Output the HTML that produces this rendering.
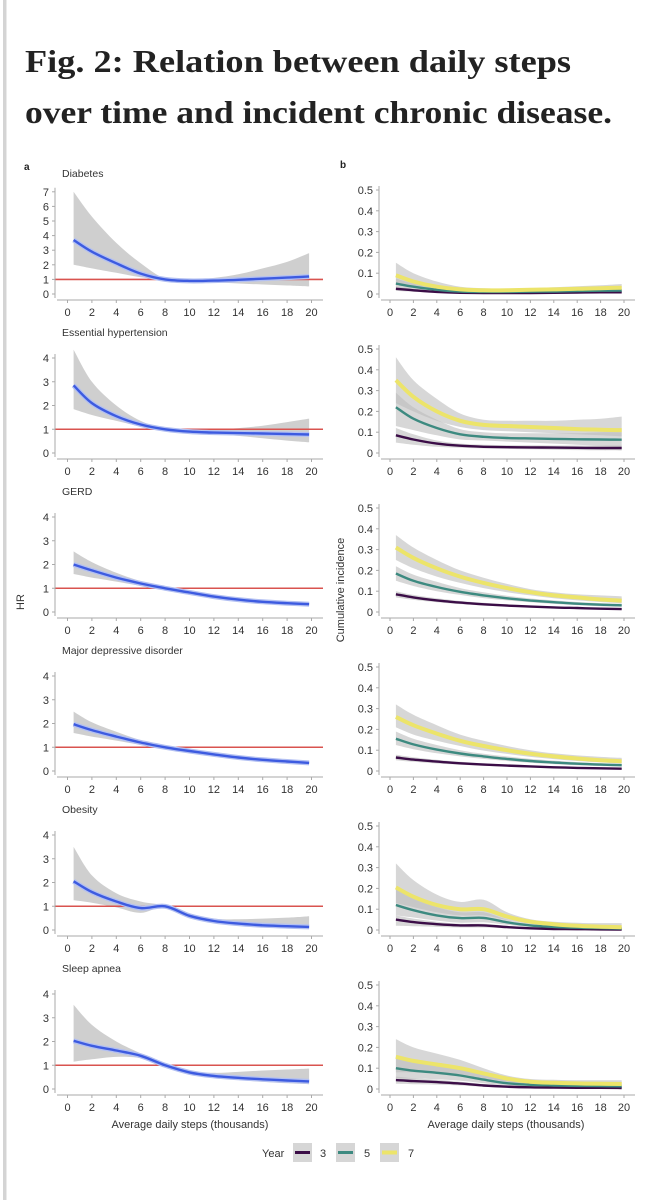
<!DOCTYPE html>
<html><head><meta charset="utf-8"><style>
html,body{margin:0;padding:0;background:#fff;width:652px;height:1200px;overflow:hidden}
svg{display:block}
</style></head><body>
<svg id="fig" width="652" height="1200" viewBox="0 0 652 1200" xmlns="http://www.w3.org/2000/svg">
<rect x="3" y="0" width="3.5" height="1200" fill="#d4d4d4"/>
<text x="25" y="72" font-family="Liberation Serif, serif" font-weight="bold" font-size="32" fill="#222" textLength="546" lengthAdjust="spacingAndGlyphs">Fig. 2: Relation between daily steps</text>
<text x="25" y="123" font-family="Liberation Serif, serif" font-weight="bold" font-size="32" fill="#222" textLength="587" lengthAdjust="spacingAndGlyphs">over time and incident chronic disease.</text>
<text x="24" y="170" font-family="Liberation Sans, sans-serif" font-weight="bold" font-size="10" fill="#222">a</text>
<text x="340" y="168" font-family="Liberation Sans, sans-serif" font-weight="bold" font-size="10" fill="#222">b</text>
<text transform="translate(24,602) rotate(-90)" text-anchor="middle" font-family="Liberation Sans, sans-serif" font-size="11" fill="#333">HR</text>
<text transform="translate(344,590) rotate(-90)" text-anchor="middle" font-family="Liberation Sans, sans-serif" font-size="11" fill="#333">Cumulative incidence</text>
<text x="190" y="1128" text-anchor="middle" font-family="Liberation Sans, sans-serif" font-size="11" fill="#333">Average daily steps (thousands)</text>
<text x="506" y="1128" text-anchor="middle" font-family="Liberation Sans, sans-serif" font-size="11" fill="#333">Average daily steps (thousands)</text>
<g id="legend" font-family="Liberation Sans, sans-serif" font-size="11" fill="#333">
<text x="262" y="1157">Year</text>
<g><rect x="293" y="1143" width="19" height="19" fill="#d6d6d6"/><line x1="295" y1="1152.5" x2="310" y2="1152.5" stroke="#3b0d47" stroke-width="3"/><text x="320" y="1157">3</text></g>
<g><rect x="336" y="1143" width="19" height="19" fill="#d6d6d6"/><line x1="338" y1="1152.5" x2="353" y2="1152.5" stroke="#3d8a80" stroke-width="3"/><text x="364" y="1157">5</text></g>
<g><rect x="380" y="1143" width="19" height="19" fill="#d6d6d6"/><line x1="382" y1="1152.5" x2="397" y2="1152.5" stroke="#ece46a" stroke-width="4"/><text x="408" y="1157">7</text></g>
</g>
</svg>
<script>
// shared x grid (thousand steps)
const steps = [0.5,2,4,6,8,10,12,14,16,18,19.8];
const panelTitles = ["Diabetes","Essential hypertension","GERD","Major depressive disorder","Obesity","Sleep apnea"];
const hrMax = [7,4,4,4,4,4];
// HR estimates / lower / upper
const hrEst = [
 [3.7,2.9,2.1,1.4,1.0,0.9,0.92,0.97,1.05,1.12,1.2],
 [2.85,2.1,1.55,1.2,1.0,0.9,0.86,0.84,0.82,0.8,0.78],
 [2.0,1.75,1.45,1.2,1.0,0.82,0.65,0.52,0.43,0.37,0.33],
 [1.97,1.72,1.45,1.2,1.0,0.84,0.7,0.57,0.47,0.4,0.34],
 [2.05,1.6,1.2,0.92,1.0,0.6,0.38,0.27,0.2,0.16,0.13],
 [2.03,1.82,1.62,1.4,1.0,0.7,0.55,0.47,0.41,0.36,0.32]];
const hrLo = [
 [2.0,1.75,1.45,1.15,0.98,0.88,0.8,0.72,0.65,0.58,0.52],
 [1.85,1.6,1.35,1.12,0.97,0.88,0.8,0.72,0.62,0.52,0.45],
 [1.6,1.45,1.28,1.1,0.97,0.78,0.6,0.47,0.37,0.31,0.27],
 [1.6,1.45,1.28,1.1,0.97,0.8,0.65,0.52,0.42,0.35,0.29],
 [1.25,1.15,0.95,0.72,0.98,0.55,0.3,0.2,0.13,0.08,0.05],
 [1.15,1.25,1.35,1.3,0.98,0.65,0.48,0.38,0.3,0.24,0.2]];
const hrHi = [
 [7.0,5.3,3.5,2.1,1.05,0.95,1.1,1.35,1.75,2.2,2.8],
 [4.35,3.0,2.0,1.35,1.03,0.95,0.98,1.05,1.15,1.3,1.45],
 [2.55,2.1,1.65,1.3,1.03,0.87,0.7,0.58,0.5,0.45,0.42],
 [2.5,2.05,1.65,1.3,1.03,0.88,0.75,0.63,0.53,0.46,0.41],
 [3.5,2.3,1.55,1.2,1.03,0.68,0.48,0.45,0.48,0.52,0.58],
 [3.55,2.7,2.0,1.5,1.03,0.75,0.68,0.72,0.78,0.82,0.86]];
// cumulative incidence, year 7
const ci7 = [
 [0.09,0.06,0.035,0.022,0.018,0.018,0.02,0.022,0.025,0.028,0.03],
 [0.35,0.27,0.2,0.155,0.135,0.13,0.125,0.12,0.115,0.112,0.11],
 [0.31,0.26,0.21,0.17,0.14,0.115,0.095,0.08,0.07,0.06,0.055],
 [0.26,0.22,0.18,0.145,0.12,0.1,0.083,0.07,0.06,0.052,0.047],
 [0.205,0.16,0.12,0.1,0.1,0.065,0.04,0.028,0.02,0.016,0.013],
 [0.155,0.135,0.118,0.1,0.075,0.05,0.035,0.03,0.027,0.025,0.024]];
const ci7Lo = [
 [0.05,0.035,0.02,0.014,0.012,0.012,0.013,0.014,0.015,0.016,0.017],
 [0.24,0.2,0.155,0.125,0.11,0.105,0.1,0.095,0.09,0.085,0.08],
 [0.25,0.21,0.17,0.14,0.115,0.095,0.08,0.066,0.056,0.048,0.042],
 [0.21,0.175,0.145,0.12,0.098,0.082,0.068,0.057,0.048,0.041,0.036],
 [0.13,0.11,0.085,0.07,0.07,0.048,0.03,0.02,0.013,0.009,0.006],
 [0.08,0.08,0.075,0.068,0.052,0.035,0.024,0.019,0.016,0.014,0.013]];
const ci7Hi = [
 [0.15,0.1,0.06,0.035,0.028,0.026,0.028,0.032,0.037,0.042,0.048],
 [0.46,0.35,0.26,0.19,0.16,0.155,0.155,0.155,0.16,0.165,0.175],
 [0.37,0.31,0.25,0.2,0.165,0.135,0.11,0.095,0.085,0.08,0.075],
 [0.32,0.27,0.22,0.175,0.145,0.12,0.1,0.085,0.075,0.068,0.063],
 [0.32,0.24,0.17,0.135,0.145,0.085,0.052,0.04,0.035,0.033,0.033],
 [0.24,0.2,0.17,0.14,0.1,0.065,0.048,0.044,0.042,0.042,0.042]];
// year 5
const ci5 = [
 [0.05,0.035,0.02,0.012,0.01,0.01,0.011,0.012,0.014,0.016,0.017],
 [0.22,0.165,0.12,0.09,0.078,0.072,0.07,0.068,0.066,0.065,0.064],
 [0.185,0.15,0.12,0.097,0.08,0.066,0.055,0.047,0.04,0.035,0.032],
 [0.155,0.128,0.103,0.084,0.07,0.058,0.048,0.041,0.035,0.031,0.028],
 [0.12,0.095,0.07,0.057,0.058,0.037,0.022,0.015,0.011,0.009,0.007],
 [0.1,0.088,0.078,0.065,0.045,0.028,0.02,0.017,0.015,0.014,0.013]];
const ci5Lo = [
 [0.03,0.022,0.013,0.008,0.007,0.007,0.007,0.008,0.009,0.01,0.011],
 [0.13,0.11,0.085,0.065,0.06,0.055,0.05,0.045,0.04,0.035,0.03],
 [0.15,0.125,0.1,0.082,0.067,0.056,0.047,0.039,0.033,0.028,0.025],
 [0.125,0.105,0.085,0.07,0.058,0.048,0.04,0.033,0.028,0.024,0.021],
 [0.07,0.06,0.045,0.035,0.037,0.025,0.014,0.009,0.006,0.004,0.003],
 [0.05,0.05,0.047,0.04,0.028,0.017,0.012,0.01,0.008,0.007,0.006]];
const ci5Hi = [
 [0.075,0.05,0.028,0.017,0.014,0.014,0.015,0.017,0.02,0.022,0.024],
 [0.29,0.22,0.16,0.115,0.1,0.095,0.095,0.095,0.095,0.1,0.1],
 [0.22,0.18,0.145,0.115,0.095,0.078,0.065,0.056,0.048,0.043,0.04],
 [0.19,0.155,0.125,0.1,0.083,0.07,0.058,0.05,0.043,0.038,0.035],
 [0.2,0.15,0.11,0.085,0.085,0.05,0.03,0.022,0.018,0.016,0.015],
 [0.16,0.14,0.12,0.1,0.07,0.042,0.03,0.027,0.026,0.025,0.025]];
// year 3
const ci3 = [
 [0.025,0.018,0.01,0.006,0.005,0.005,0.005,0.006,0.007,0.008,0.008],
 [0.085,0.065,0.045,0.035,0.03,0.028,0.027,0.026,0.025,0.024,0.024],
 [0.085,0.07,0.056,0.045,0.037,0.031,0.026,0.022,0.019,0.016,0.014],
 [0.065,0.055,0.045,0.037,0.031,0.026,0.022,0.018,0.015,0.013,0.011],
 [0.05,0.038,0.028,0.022,0.022,0.014,0.008,0.005,0.004,0.003,0.002],
 [0.043,0.038,0.033,0.026,0.017,0.011,0.008,0.007,0.006,0.006,0.005]];
const ci3Lo = [
 [0.015,0.011,0.006,0.004,0.003,0.003,0.003,0.004,0.004,0.005,0.005],
 [0.05,0.04,0.03,0.025,0.022,0.02,0.018,0.016,0.014,0.013,0.012],
 [0.07,0.058,0.047,0.038,0.031,0.026,0.021,0.018,0.015,0.013,0.011],
 [0.052,0.044,0.036,0.03,0.025,0.021,0.018,0.014,0.012,0.01,0.008],
 [0.02,0.018,0.015,0.012,0.012,0.008,0.004,0.002,0.001,0.001,0.0],
 [0.025,0.023,0.021,0.017,0.011,0.007,0.005,0.004,0.003,0.003,0.002]];
const ci3Hi = [
 [0.035,0.025,0.014,0.009,0.007,0.007,0.008,0.009,0.01,0.011,0.012],
 [0.12,0.09,0.06,0.045,0.04,0.038,0.037,0.036,0.036,0.036,0.036],
 [0.1,0.082,0.066,0.053,0.044,0.037,0.031,0.026,0.022,0.02,0.018],
 [0.078,0.066,0.054,0.044,0.037,0.031,0.026,0.022,0.018,0.016,0.014],
 [0.07,0.055,0.04,0.03,0.03,0.02,0.012,0.009,0.007,0.006,0.005],
 [0.06,0.052,0.045,0.035,0.024,0.016,0.012,0.011,0.01,0.01,0.01]];
const xTicks = [0,2,4,6,8,10,12,14,16,18,20];
const ciTicks = [0,0.1,0.2,0.3,0.4,0.5];
const ciTickLabels = ["0","0.1","0.2","0.3","0.4","0.5"];

const NS = "http://www.w3.org/2000/svg";
const svg = document.getElementById("fig");
function mk(tag, attrs, parent){const e=document.createElementNS(NS,tag);for(const k in attrs)e.setAttribute(k,attrs[k]);(parent||svg).appendChild(e);return e;}
function smooth(pts){let d="M"+pts[0][0].toFixed(1)+","+pts[0][1].toFixed(1);
 for(let i=0;i<pts.length-1;i++){const p0=pts[i-1]||pts[i],p1=pts[i],p2=pts[i+1],p3=pts[i+2]||p2;
  const c1=[p1[0]+(p2[0]-p0[0])/6,p1[1]+(p2[1]-p0[1])/6],c2=[p2[0]-(p3[0]-p1[0])/6,p2[1]-(p3[1]-p1[1])/6];
  d+="C"+c1[0].toFixed(1)+","+c1[1].toFixed(1)+" "+c2[0].toFixed(1)+","+c2[1].toFixed(1)+" "+p2[0].toFixed(1)+","+p2[1].toFixed(1);}
 return d;}
function bandPath(xf,yf,lo,hi){const up=steps.map((s,i)=>[xf(s),yf(hi[i])]);const dn=steps.map((s,i)=>[xf(s),yf(lo[i])]).reverse();
 const d2=smooth(dn);return smooth(up)+"L"+d2.slice(1)+"Z";}
const FONT="Liberation Sans, sans-serif";

for(let p=0;p<6;p++){
 const z=294+159*p;
 // ---- left panel (HR)
 const xL=v=>67.5+v*12.2;
 const unit = hrMax[p]===7?14.6:23.75;
 const yL=v=>z-v*unit;
 const gL=mk("g",{});
 
 
 const t=mk("text",{x:62,y:z-117,"font-family":FONT,"font-size":"10.5",fill:"#333"},gL);t.textContent=panelTitles[p];
 
 
 const band=mk("path",{d:bandPath(xL,yL,hrLo[p],hrHi[p]),fill:"#cfcfcf"},gL);
 
 
 const ref=mk("line",{x1:55,x2:323,y1:yL(1),y2:yL(1),stroke:"#d9534f","stroke-width":1.6},gL);
 
 
 const ep=smooth(steps.map((s,i)=>[xL(s),yL(hrEst[p][i])]));
 mk("path",{d:ep,fill:"none",stroke:"#b3c0f2","stroke-width":5},gL);
 const ln=mk("path",{d:ep,fill:"none",stroke:"#3d5be0","stroke-width":2.4},gL);
 
 
 const ax=mk("g",{stroke:"#aaa","stroke-width":1},gL);
 
 
 mk("line",{x1:55,x2:55,y1:yL(hrMax[p])-4,y2:z+4},ax);
 mk("line",{x1:57,x2:323,y1:z+6,y2:z+6},ax);
 for(let v=0;v<=hrMax[p];v++){mk("line",{x1:52,x2:55,y1:yL(v),y2:yL(v)},ax);
  const tl=mk("text",{x:49,y:yL(v)+4,"text-anchor":"end","font-family":FONT,"font-size":"11",fill:"#333",stroke:"none"},ax);tl.textContent=v;}
 xTicks.forEach(v=>{mk("line",{x1:xL(v),x2:xL(v),y1:z+6,y2:z+9},ax);
  const tl=mk("text",{x:xL(v),y:z+22,"text-anchor":"middle","font-family":FONT,"font-size":"11",fill:"#333",stroke:"none"},ax);tl.textContent=v;});

 // ---- right panel (cumulative incidence)
 const xR=v=>390+v*11.7;
 const yR=v=>z-v*208;
 const gR=mk("g",{});
 
 
 [[ci7Lo,ci7Hi],[ci5Lo,ci5Hi],[ci3Lo,ci3Hi]].forEach(b=>{
  const bp=mk("path",{d:bandPath(xR,yR,b[0][p],b[1][p]),fill:"#bdbdbd","fill-opacity":0.6},gR);
  
  });
 [[ci3,"#3b0d47",2.4,"year-3-line"],[ci5,"#3d8a80",2.4,"year-5-line"],[ci7,"#ece46a",4,"year-7-line"]].forEach(s=>{
  const l=mk("path",{d:smooth(steps.map((x,i)=>[xR(x),yR(s[0][p][i])])),fill:"none",stroke:s[1],"stroke-width":s[2]},gR);
  
  });
 const ax2=mk("g",{stroke:"#aaa","stroke-width":1},gR);
 
 
 mk("line",{x1:379,x2:379,y1:yR(0.5)-4,y2:z+4},ax2);
 mk("line",{x1:381,x2:635,y1:z+6,y2:z+6},ax2);
 ciTicks.forEach((v,i)=>{mk("line",{x1:376,x2:379,y1:yR(v),y2:yR(v)},ax2);
  const tl=mk("text",{x:373,y:yR(v)+4,"text-anchor":"end","font-family":FONT,"font-size":"11",fill:"#333",stroke:"none"},ax2);tl.textContent=ciTickLabels[i];});
 xTicks.forEach(v=>{mk("line",{x1:xR(v),x2:xR(v),y1:z+6,y2:z+9},ax2);
  const tl=mk("text",{x:xR(v),y:z+22,"text-anchor":"middle","font-family":FONT,"font-size":"11",fill:"#333",stroke:"none"},ax2);tl.textContent=v;});
}
</script>
</body></html>
